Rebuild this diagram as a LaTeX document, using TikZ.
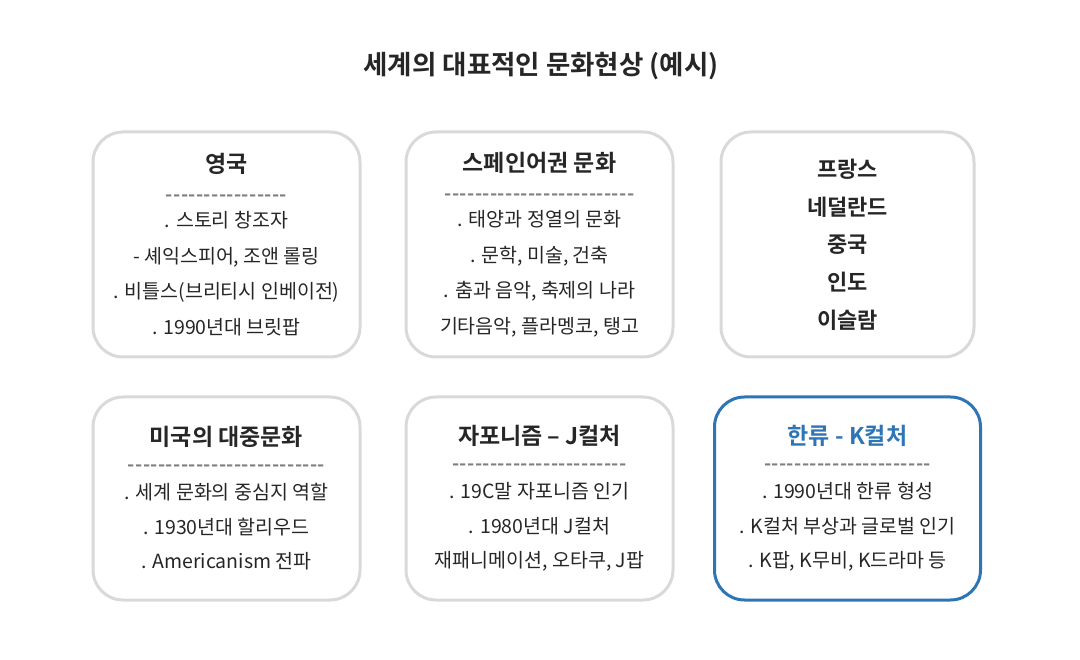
\documentclass[tikz,border=0pt]{standalone}
\usepackage{fontspec}
\setmainfont{Noto Sans CJK KR}[BoldFont={Noto Sans CJK KR Bold}]
\newfontfamily\dashfont{Noto Sans CJK KR Bold}[LetterSpace=2]
\usetikzlibrary{positioning}
\definecolor{inktext}{HTML}{262626}
\definecolor{cardline}{HTML}{D9D9D9}
\definecolor{kblue}{HTML}{2E75B6}
\definecolor{dashgray}{HTML}{7F7F7F}
\newcommand{\cardhead}{\fontsize{23}{27}\selectfont\bfseries}
\newcommand{\dashline}[1]{{\color{dashgray}\dashfont #1}}

\begin{document}
\begin{tikzpicture}[
    x=1pt, y=-1pt,
    text=inktext,
    card/.style={rectangle, draw=cardline, line width=3pt, rounded corners=30pt, align=center,
        minimum width=267pt, minimum height=225pt, inner sep=0pt,
        font=\fontsize{19.5}{35.5}\selectfont},
    lowcard/.style={card, minimum height=203pt, font=\fontsize{19.5}{34.5}\selectfont},
    focus/.style={draw=kblue}
]
    \useasboundingbox (0,0) rectangle (1080,660);
    \node (title) at (541,66) {\fontsize{26.5}{30}\selectfont\bfseries 세계의 대표적인 문화현상 (예시)};
    % top row
    \node (uk) [card] at (226.5,244.5) {{\cardhead 영국}\\[-7pt]
        \dashline{----------------}\\[-9pt]
        . 스토리 창조자\\ - 셰익스피어, 조앤 롤링\\ . 비틀스(브리티시 인베이전)\\ . 1990년대 브릿팝};
    \node (spain) [card, right=43pt of uk] {{\cardhead 스페인어권 문화}\\[-7pt]
        \dashline{-------------------------}\\[-9pt]
        . 태양과 정열의 문화\\ . 문학, 미술, 건축\\ . 춤과 음악, 축제의 나라\\ 기타음악, 플라멩코, 탱고};
    \node (others) [card, minimum width=253pt, right=45pt of spain,
        font=\fontsize{22}{37.7}\selectfont\bfseries] {프랑스\\ 네덜란드\\ 중국\\ 인도\\ 이슬람};
    % bottom row
    \node (usa) [lowcard, below=35pt of uk, yshift=-2pt] {{\cardhead 미국의 대중문화}\\[-9pt]
        \dashline{--------------------------}\\[-6pt]
        . 세계 문화의 중심지 역할\\ . 1930년대 할리우드\\ . Americanism 전파};
    \node (japan) [lowcard, below=35pt of spain, yshift=-2pt] {{\cardhead 자포니즘 – J컬처}\\[-9pt]
        \dashline{-----------------------}\\[-6pt]
        . 19C말 자포니즘 인기\\ . 1980년대 J컬처\\ 재패니메이션, 오타쿠, J팝};
    \node (korea) [lowcard, focus, minimum width=266pt, below=35pt of others, yshift=-2pt] {{\cardhead\color{kblue} 한류 - K컬처}\\[-9pt]
        \dashline{----------------------}\\[-6pt]
        . 1990년대 한류 형성\\ . K컬처 부상과 글로벌 인기\\ . K팝, K무비, K드라마 등};
\end{tikzpicture}
\end{document}
